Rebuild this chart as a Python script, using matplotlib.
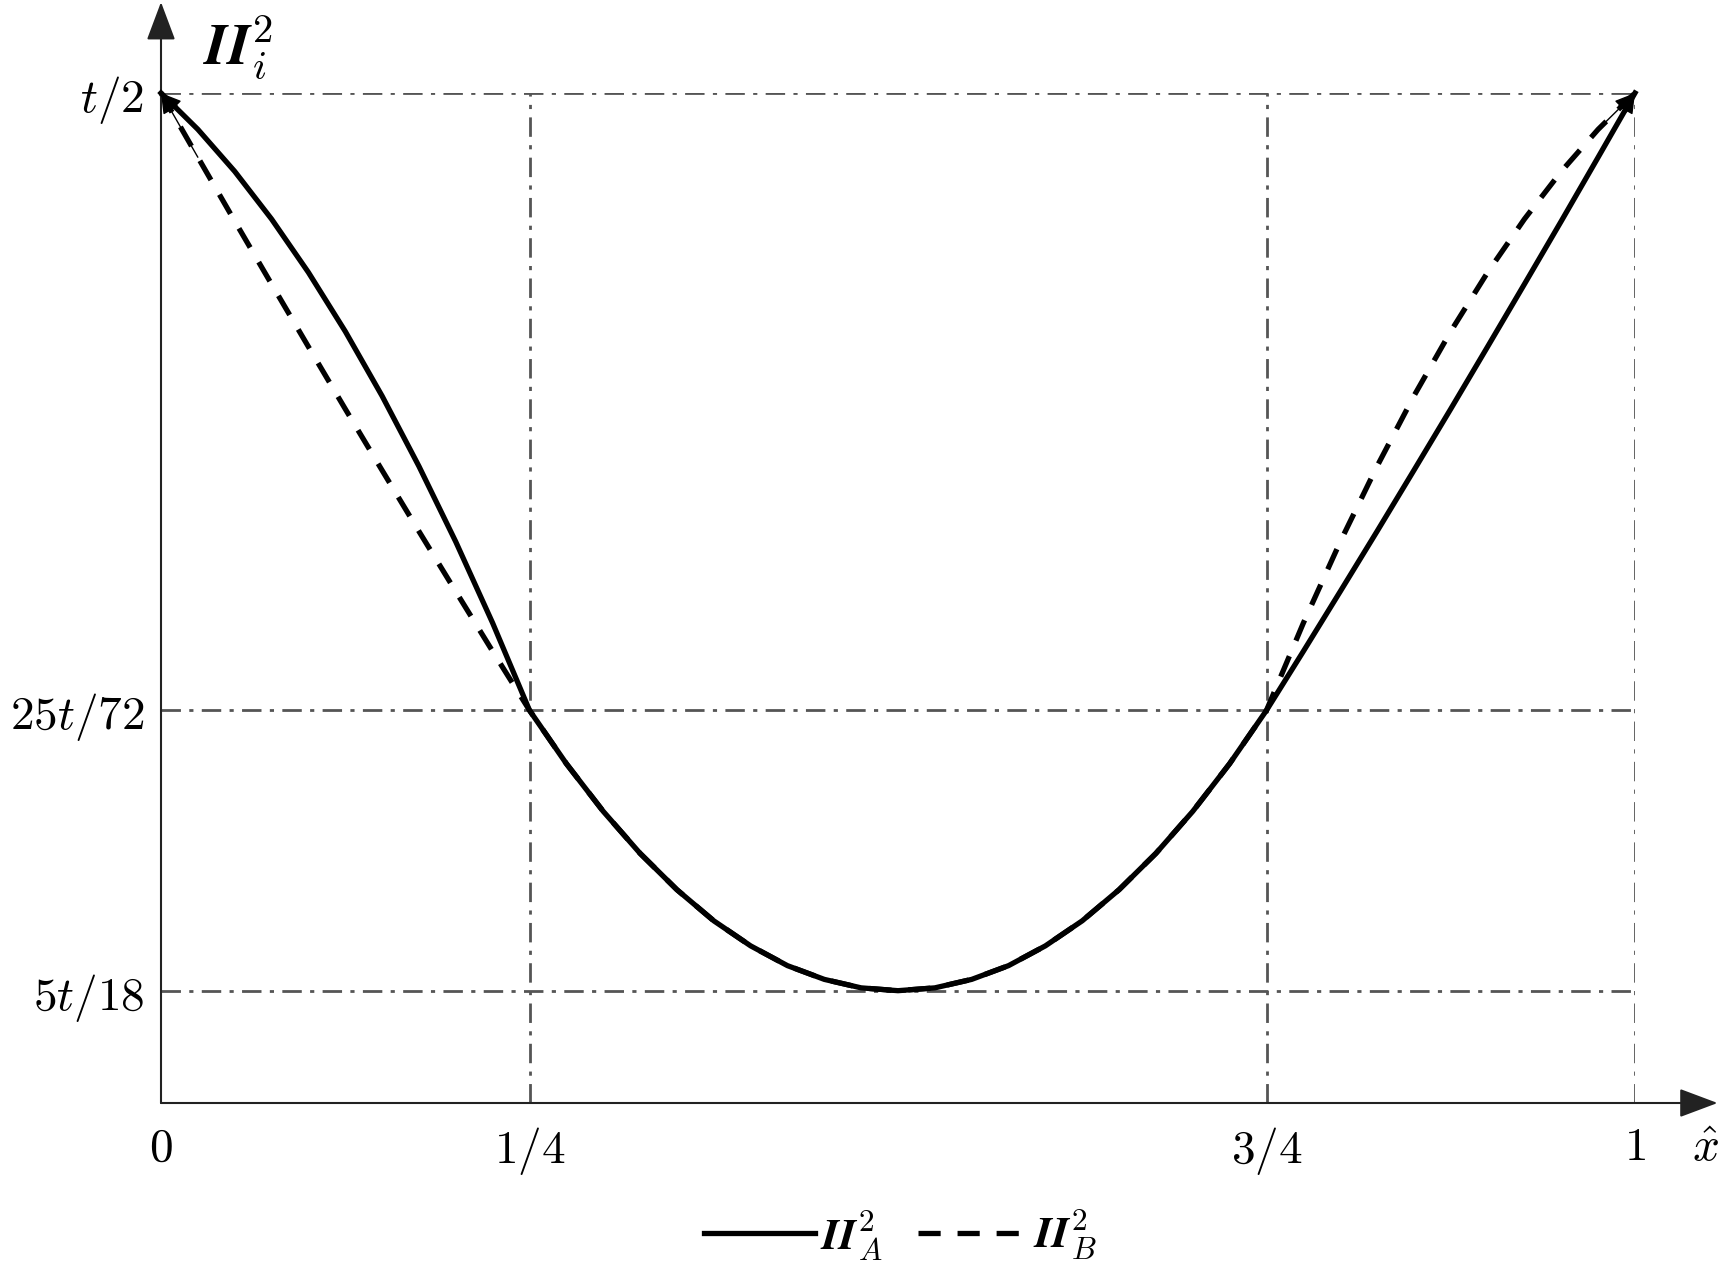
import matplotlib
matplotlib.use("Agg")
import matplotlib.pyplot as plt
from matplotlib.lines import Line2D

plt.rcParams['mathtext.fontset'] = 'cm'
plt.rcParams['font.family'] = ['serif']
plt.rcParams['font.serif'] = ['DejaVu Serif']

# x grid
x_hat = [0.0, 0.025, 0.05, 0.075, 0.1, 0.125, 0.15, 0.175, 0.2, 0.225, 0.25,
         0.275, 0.3, 0.325, 0.35, 0.375, 0.4, 0.425, 0.45, 0.475, 0.5,
         0.525, 0.55, 0.575, 0.6, 0.625, 0.65, 0.675, 0.7, 0.725,
         0.75, 0.775, 0.8, 0.825, 0.85, 0.875, 0.9, 0.925, 0.95, 0.975, 1.0]

# profit of A (solid)
pi_A = [0.5, 0.4910, 0.4806, 0.4688, 0.4556, 0.4410, 0.4250, 0.4076, 0.3889, 0.3688, 0.3472,
        0.3340, 0.3222, 0.3118, 0.3028, 0.2951, 0.2889, 0.2840, 0.2806, 0.2785, 0.2778,
        0.2785, 0.2806, 0.2840, 0.2889, 0.2951, 0.3028, 0.3118, 0.3222, 0.3340,
        0.3472, 0.3618, 0.3766, 0.3915, 0.4066, 0.4218, 0.4372, 0.4527, 0.4683, 0.4841, 0.5]

# profit of B (dashed)
pi_B = [0.5, 0.4841, 0.4683, 0.4527, 0.4372, 0.4218, 0.4066, 0.3915, 0.3766, 0.3618, 0.3472,
        0.3340, 0.3222, 0.3118, 0.3028, 0.2951, 0.2889, 0.2840, 0.2806, 0.2785, 0.2778,
        0.2785, 0.2806, 0.2840, 0.2889, 0.2951, 0.3028, 0.3118, 0.3222, 0.3340,
        0.3472, 0.3688, 0.3889, 0.4076, 0.4250, 0.4410, 0.4556, 0.4688, 0.4806, 0.4910, 0.5]

x_ticks = [0, 0.25, 0.75, 1]
x_labels = ['$0$', '$1/4$', '$3/4$', '$1$']
y_ticks = [5 / 18, 25 / 72, 0.5]
y_labels = ['$5t/18$', '$25t/72$', '$t/2$']

grid_col = '#555555'
dashdot = (7, 3, 1.5, 3)
lw_curve = 3.8
dash_curve = (4.2, 3.2)

fig = plt.figure(figsize=(17.22, 12.65), dpi=100)
ax = fig.add_axes([161 / 1722, 162 / 1265, 1474 / 1722, 1010 / 1265])
ax.set_xlim(0, 1)
ax.set_ylim(0.25, 0.5)
for s in ax.spines.values():
    s.set_visible(False)

# dash-dot guide lines
for yv in y_ticks:
    ax.plot([0, 1], [yv, yv], color=grid_col, lw=2.0, dashes=dashdot, zorder=1)
for xv in x_ticks[1:]:
    ax.plot([xv, xv], [0.25, 0.5], color=grid_col, lw=2.0, dashes=dashdot, zorder=1)

# curves
ax.plot(x_hat, pi_B, color='black', lw=lw_curve, dashes=dash_curve, zorder=3,
        clip_on=False, solid_joinstyle='round')
ax.plot(x_hat, pi_A, color='black', lw=lw_curve, zorder=4, clip_on=False,
        solid_joinstyle='round')

# arrow tips on curve ends
for ys in (pi_A, pi_B):
    for i0, i1 in ((0, 1), (-1, -2)):
        ax.annotate('', xy=(x_hat[i0], ys[i0]), xytext=(x_hat[i1], ys[i1]),
                    arrowprops=dict(arrowstyle='-|>,head_length=0.7,head_width=0.3',
                                    color='black', lw=1, mutation_scale=18,
                                    shrinkA=0, shrinkB=0),
                    annotation_clip=False, zorder=5)

# axes with arrows
axis_col = '#222222'
head = '-|>,head_length=0.8,head_width=0.3'
ax.annotate('', xy=(0, 1.09), xytext=(0, 0), xycoords='axes fraction',
            arrowprops=dict(arrowstyle=head, color=axis_col, lw=1.5,
                            mutation_scale=30, shrinkA=0, shrinkB=0))
ax.annotate('', xy=(1.056, 0), xytext=(0, 0), xycoords='axes fraction',
            arrowprops=dict(arrowstyle=head, color=axis_col, lw=1.5,
                            mutation_scale=30, shrinkA=0, shrinkB=0))

ax.set_xticks(x_ticks)
ax.set_xticklabels(x_labels)
ax.set_yticks(y_ticks)
ax.set_yticklabels(y_labels)
ax.tick_params(axis='both', length=0, labelsize=34)
ax.tick_params(axis='x', pad=16)
ax.tick_params(axis='y', pad=12)

ax.text(1.0475, -0.045, r'$\hat{x}$', transform=ax.transAxes, fontsize=34,
        ha='center', va='center')
ax.text(0.052, 1.045, r'$\mathbfit{II}_i^2$', transform=ax.transAxes, fontsize=42,
        ha='center', va='center')

handles = [Line2D([], [], color='black', lw=lw_curve),
           Line2D([], [], color='black', lw=lw_curve, dashes=dash_curve)]
fig.legend(handles, [r'$\mathbfit{II}_A^2$', r'$\mathbfit{II}_B^2$'],
           loc='center', bbox_to_anchor=(0.523, 0.024), ncol=2, frameon=False,
           fontsize=32, handlelength=2.5, handletextpad=0.1, columnspacing=0.8,
           borderpad=0.1)

fig.savefig('out.png', dpi=100)
